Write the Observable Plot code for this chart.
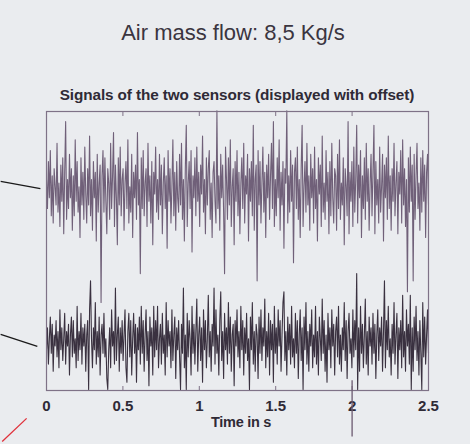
<!DOCTYPE html>
<html>
<head>
<meta charset="utf-8">
<script src="https://cdn.jsdelivr.net/npm/d3@7"></script>
<script src="https://cdn.jsdelivr.net/npm/@observablehq/plot@0.6"></script>
<style>
  html, body { margin: 0; padding: 0; background: #eaecef; }
  #wrap { position: relative; width: 470px; height: 444px; overflow: hidden; font-family: "Liberation Sans", Arial, sans-serif; }
  #title { position: absolute; left: 0; width: 466px; top: 20px; text-align: center; font-size: 22px; color: #3b3540; }
  #subtitle { position: absolute; left: 0; width: 474px; top: 86px; text-align: center; font-size: 15.3px; font-weight: bold; color: #2f2a36; letter-spacing: -0.1px; }
  #xlabel { position: absolute; left: 0; width: 482px; top: 414px; text-align: center; font-size: 14.5px; font-weight: bold; color: #2f2a36; letter-spacing: -0.3px; }
  #chart { position: absolute; left: 0; top: 0; }
</style>
</head>
<body>
<div id="wrap">
  <div id="chart"></div>
  <div id="title">Air mass flow: 8,5 Kg/s</div>
  <div id="subtitle">Signals of the two sensors (displayed with offset)</div>
  <div id="xlabel">Time in s</div>
</div>
<script>
// Sensor 1 (upper trace), raw values around 0
const sensor1 = [
  3, -5, 8, -2, 11, -7, 4, -9, 6, 1, -4, 13, -6, 2, -10, 7, -3, 9, -12, 5,
  19, -8, 3, -5, 10, -2, 6, -11, 4, -7, 14, -3, 8, -6, 1, -13, 9, -4, 5, -8,
  12, -1, -9, 6, -4, 15, -7, 3, -11, 8, -2, 5, -14, 10, -6, 2, 7, -31, 4, 11,
  -6, 9, -3, -12, 6, 2, -8, 13, -5, 4, 16, -10, 7, -2, -15, 9, -4, 12, -7, 3,
  6, -11, 2, 8, -5, 14, -9, 1, -6, 10, -13, 5, -2, 7, -8, 16, -4, 3, -23, 9,
  -5, 11, -7, 2, 6, -10, 13, -3, 4, -9, 8, -15, 5, -1, 12, -6, 3, -8, 10, -4,
  7, -12, 2, 9, -5, 4, -16, 11, -3, 6, -9, 1, 14, -7, 5, -11, 8, -2, -6, 10,
  -4, 13, -8, 3, -14, 6, 18, -10, 2, 8, -5, 11, -17, 4, -2, 9, -7, 12, -3, 5,
  -10, 7, -1, 15, -6, 3, -12, 9, -4, 6, 11, -8, 2, -13, 5, 8, -3, -9, 22, -5,
  4, -11, 10, -2, 7, -6, -23, 12, 3, -8, 9, -4, 14, -10, 1, 6, -15, 8, -3, 11,
  -7, 5, -12, 2, 9, -5, 13, -9, 4, -1, 10, -14, 6, -3, 8, -7, 18, -11, 3, 7,
  -25, 11, -4, 8, -9, 2, 12, -6, 5, -13, 7, -2, 10, -8, 4, 13, -5, 19, -10, 3,
  -7, 9, -2, 14, -11, 5, -4, 8, -16, 6, 2, 22, -9, 4, -6, 11, -3, 7, -20, 5,
  9, -5, 12, -8, 3, -13, 6, 18, -10, 1, 8, -6, 13, -4, 4, -11, 10, -2, 6, -9,
  12, -5, 3, -14, 9, -1, 7, -10, 15, -6, 2, -8, 11, -3, 5, -12, 8, -7, 13, -2,
  -9, 6, 4, -11, 10, -5, 14, -8, 2, -4, 9, -15, 6, 1, -7, 19, -12, 5, -3, 8,
  -10, 12, -6, 3, 18, -9, 7, -2, 11, -13, 4, -5, 9, -8, 13, -3, 6, -11, 2, 10,
  -7, 5, 18, -12, 8, -4, 3, -9, 12, -6, 1, 10, -14, 7, -2, 9, -8, 15, -5, 4,
  -11, 6, -3, 13, -7, 2, 8, -12, 5, -1, 11, -9, 14, -4, 6, -10, 3, -28, 9, -6,
  12, -3, 7, -25, 10, -8, 4, 13, -5, 2, -11, 9, -6, 11, -3, 7, -13, 5, 10, -4
];
// Sensor 2 (lower trace), raw values around 0
const sensor2 = [
  -2, 4, -6, 1, 7, -3, 5, -8, 2, -1, 6, -4, 3, -7, 9, -2, 4, -5, 1, 8,
  -6, 3, -1, 5, -9, 2, 7, -4, 6, -3, 1, -7, 10, -5, 3, -2, 8, -6, 4, -1,
  5, -8, 2, 6, -13, 9, 17, 1, -7, 4, -2, 11, -6, 3, -4, 7, -9, 2, 5, -3,
  8, -4, 1, -10, -13, -2, 4, -7, 9, -1, 3, -6, 15, -5, 2, 7, -8, 4, -3, 6,
  -5, 2, 9, -7, -11, 3, 8, -4, 6, -9, 1, 8, -3, 5, -11, 4, -2, 7, -6, 10,
  -3, 6, -8, 2, 9, -5, 3, -12, 7, -1, 4, -9, 10, -4, 6, -2, 10, -7, 1, 5,
  -6, 8, -3, 2, -9, 11, -4, 6, -1, 3, -7, 9, -5, 2, 7, -10, 4, -2, 6, -4,
  -13, 5, -3, 15, -7, 2, -13, 8, -4, 6, 1, -9, 10, -3, 5, -6, 3, 12, -8, 2,
  7, -5, 4, -11, 9, -2, 6, -7, 1, 13, -4, 3, -8, 5, -1, 15, -6, 9, -3, 2,
  -9, 6, 14, -5, 3, -10, 8, -2, 4, -6, 11, -3, 7, -8, 2, 5, -12, 6, -1, 9,
  -4, 3, -7, 10, -2, 6, -9, 4, -3, 8, -5, 1, -13, 7, -2, 11, -6, 3, -8, 5,
  2, -10, 7, -3, 9, -5, 4, -1, 12, -7, 3, -4, 8, -9, 6, -2, 5, -11, 10, -3,
  4, -6, 9, -1, 6, -8, 2, 11, 14, -5, 3, -9, 7, -2, 5, -6, 10, -4, 1, -7,
  8, -3, 6, -10, 2, 9, -5, 4, -13, 7, -2, 11, -6, 3, -8, 5, -1, 9, -7, 2,
  -4, 10, -6, 3, -9, 7, 1, -5, 12, -3, 6, -8, 2, -11, 8, -2, 4, -7, 9, -1,
  5, -9, 3, 7, -4, 10, -6, 2, -8, 4, -2, 11, -5, 6, -10, 3, 8, -3, 1, -7,
  9, -4, 6, -2, 19, -13, 4, -8, 10, -3, 5, -7, 2, 12, -6, 3, -9, 7, -1, 4,
  -6, 8, -3, 5, -10, 2, 9, -5, 4, -1, 7, -8, 3, 17, -7, 6, -2, 10, -4, 1,
  -9, 5, -3, 11, -6, 2, 8, -10, 4, -2, 6, -7, 13, -4, 3, -8, 9, -1, 5, -6,
  13, -13, 4, -8, 7, -2, 10, -5, 3, -9, 6, -3, -13, 11, -4, 7, -6, 2, 9, -3
];
const offset1 = 42;   // display offset of sensor 1
const offset2 = 0;    // display offset of sensor 2
const duration = 2.5; // seconds
const xTicks = [0, 0.5, 1, 1.5, 2, 2.5];
const xMinorTicks = [0.5, 1, 1.5, 2];
// hand-drawn annotation strokes on the scanned page (time, value)
const annotations = [
  {x1: -0.30, y1: 44.5, x2: -0.04, y2: 42.5, color: "#1a1a1a"},
  {x1: -0.30, y1: 2.2, x2: -0.06, y2: -1.1, color: "#1a1a1a"},
  {x1: -0.29, y1: -27.4, x2: -0.13, y2: -21.0, color: "#e0303a"},
  {x1: 2.0, y1: -10.5, x2: 2.0, y2: -26, color: "#6b5a70"}
];

const s1 = sensor1.map((v, i) => ({t: i * duration / (sensor1.length - 1), v: v + offset1}));
const s2 = sensor2.map((v, i) => ({t: i * duration / (sensor2.length - 1), v: v + offset2}));

const chart = Plot.plot({
  width: 470,
  height: 444,
  marginTop: 111,
  marginLeft: 46,
  marginRight: 42,
  marginBottom: 54,
  style: {background: "transparent", fontFamily: "Liberation Sans, Arial, sans-serif", color: "#2f2a36"},
  x: {domain: [0, duration]},
  y: {domain: [-13.3, 63.8], axis: null},
  marks: [
    Plot.line(s1, {x: "t", y: "v", stroke: "#5b4864", strokeWidth: 1.1, strokeOpacity: 0.85}),
    Plot.line(s2, {x: "t", y: "v", stroke: "#271d2c", strokeWidth: 1.1, strokeOpacity: 0.9}),
    Plot.frame({stroke: "#7f7287", strokeWidth: 1.2}),
    Plot.axisX(xTicks, {anchor: "bottom", tickSize: 0, tickPadding: 10, fontSize: 15, fontWeight: "bold", label: null, tickFormat: d => String(d)}),
    Plot.axisX(xMinorTicks, {anchor: "bottom", tickSize: -4, stroke: "#7f7287", tickFormat: () => "", label: null}),
    Plot.axisX(xMinorTicks, {anchor: "top", tickSize: -4, stroke: "#7f7287", tickFormat: () => "", label: null}),
    Plot.link(annotations, {x1: "x1", y1: "y1", x2: "x2", y2: "y2", stroke: "color", strokeWidth: 1.3, clip: false})
  ]
});
document.getElementById("chart").appendChild(chart);
</script>
</body>
</html>
